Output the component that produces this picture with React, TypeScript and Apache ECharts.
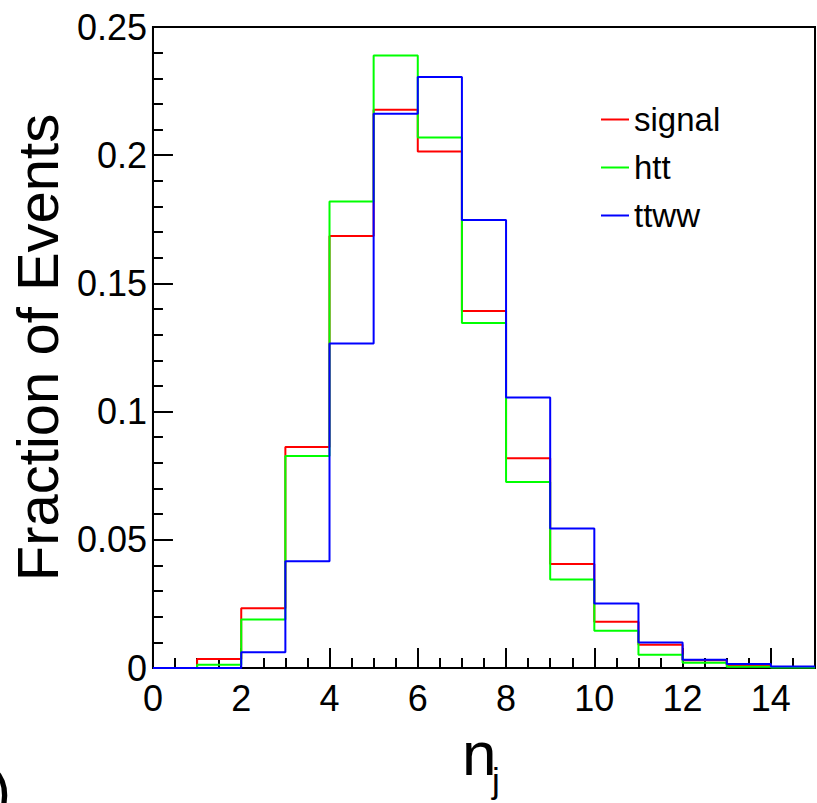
import React, { useEffect, useRef } from "react";
import * as echarts from "echarts";

const binEdges = [0, 1, 2, 3, 4, 5, 6, 7, 8, 9, 10, 11, 12, 13, 14, 15];
const signal = [0, 0.0035, 0.0233, 0.0862, 0.1685, 0.2177, 0.2014, 0.1392, 0.0818, 0.0406, 0.018, 0.0091, 0.003, 0.0012, 0.0004];
const htt = [0, 0.0013, 0.0189, 0.0827, 0.1819, 0.2389, 0.2069, 0.1346, 0.0725, 0.0345, 0.0145, 0.0052, 0.002, 0.0005, 0.0002];
const ttww = [0, 0, 0.0061, 0.0416, 0.1266, 0.2162, 0.2305, 0.1747, 0.1055, 0.0544, 0.0252, 0.0099, 0.0032, 0.0016, 0.0006];
const seriesNames = ["signal", "htt", "ttww"];
const seriesColors = ["#ff0000", "#00ff00", "#0000ff"];
const yAxisTitle = "Fraction of Events";

const FONT = "Liberation Sans, Arial, sans-serif";

function histData(vals: number[]) {
  const pts: number[][] = vals.map((v, i) => [binEdges[i], v]);
  pts.push([binEdges[vals.length], vals[vals.length - 1]]);
  return pts;
}

export default function App() {
  const ref = useRef<HTMLDivElement>(null);
  useEffect(() => {
    document.body.style.margin = "0";
    const chart = echarts.init(ref.current!, null, { renderer: "svg" });
    const allSeries = [signal, htt, ttww];
    chart.setOption({
      animation: false,
      backgroundColor: "#ffffff",
      grid: {
        left: 149,
        right: 2,
        top: 27,
        bottom: 135,
        show: true,
        borderColor: "#000",
        borderWidth: 2,
        backgroundColor: "transparent",
      },
      legend: {
        orient: "vertical",
        left: 601,
        top: 103,
        padding: 0,
        itemWidth: 28,
        itemHeight: 2,
        itemGap: 15,
        icon: "rect",
        textStyle: { fontSize: 33, color: "#000", fontFamily: FONT },
        data: seriesNames,
      },
      xAxis: [
        {
          type: "value",
          position: "bottom",
          min: 0,
          max: 15,
          interval: 2,
          axisLine: { show: true, lineStyle: { color: "#000", width: 2 } },
          axisTick: { show: true, inside: true, length: 20, lineStyle: { color: "#000", width: 2 } },
          axisLabel: {
            show: true,
            showMaxLabel: false,
            margin: 12,
            fontSize: 36,
            color: "#000",
            fontFamily: FONT,
          },
          splitLine: { show: false },
        },
        {
          type: "value",
          position: "bottom",
          min: 0,
          max: 15,
          interval: 0.5,
          axisLine: { show: false },
          axisTick: { show: true, inside: true, length: 10, lineStyle: { color: "#000", width: 2 } },
          axisLabel: { show: false },
          splitLine: { show: false },
        },
      ],
      yAxis: {
        type: "value",
        min: 0,
        max: 0.25,
        interval: 0.05,
        name: yAxisTitle,
        nameLocation: "middle",
        nameRotate: 90,
        nameGap: 78,
        nameTextStyle: { fontSize: 58, color: "#000", fontFamily: FONT },
        axisLine: { show: true, lineStyle: { color: "#000", width: 2 } },
        axisTick: { show: true, inside: true, length: 20, lineStyle: { color: "#000", width: 2 } },
        minorTick: { show: true, splitNumber: 5, length: 10, lineStyle: { color: "#000", width: 2 } },
        axisLabel: { margin: 6, fontSize: 36, color: "#000", fontFamily: FONT },
        splitLine: { show: false },
      },
      graphic: [
        {
          type: "text",
          x: 462,
          y: 753,
          style: { text: "n", fontSize: 62, fontFamily: FONT, fill: "#000", textAlign: "left", textVerticalAlign: "middle" },
        },
        {
          type: "text",
          x: 492,
          y: 780,
          style: { text: "j", fontSize: 35, fontFamily: FONT, fill: "#000", textAlign: "left", textVerticalAlign: "middle" },
        },
        {
          type: "text",
          x: -9,
          y: 790,
          style: { text: ")", fontSize: 60, fontFamily: FONT, fill: "#000", textAlign: "left", textVerticalAlign: "middle" },
        },
      ],
      series: allSeries.map((vals, i) => ({
        name: seriesNames[i],
        type: "line",
        xAxisIndex: 0,
        step: "end",
        symbol: "none",
        color: seriesColors[i],
        lineStyle: { color: seriesColors[i], width: 2 },
        data: histData(vals),
        z: 2 + i,
      })),
    });
    return () => chart.dispose();
  }, []);
  return <div ref={ref} style={{ width: 817, height: 803 }} />;
}
